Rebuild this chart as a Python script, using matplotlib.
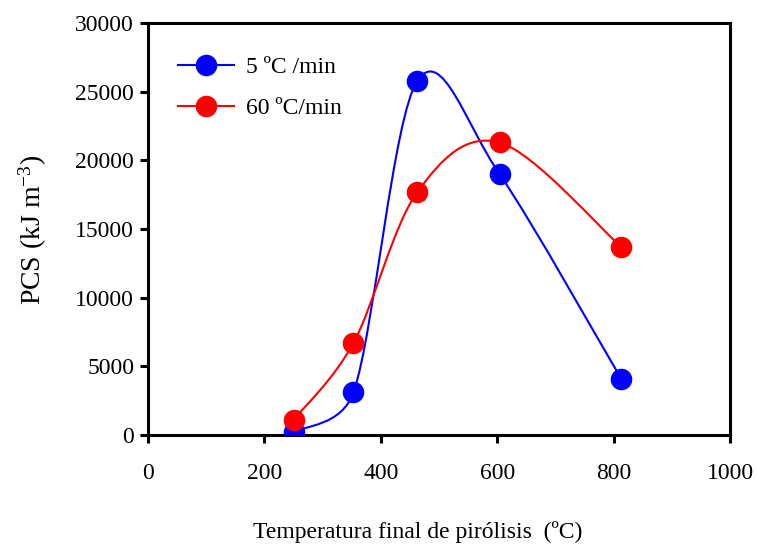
import matplotlib
matplotlib.use('Agg')
import matplotlib.pyplot as plt
from matplotlib.path import Path
from matplotlib.patches import PathPatch
from matplotlib.lines import Line2D
import numpy as np

plt.rcParams.update({
    'font.family': ['Liberation Serif', 'DejaVu Serif'],
    'font.size': 17,
    'mathtext.default': 'regular',
})

# Data
temps_5 = [250, 353, 463, 604, 813]
pcs_5 = [200, 3100, 25800, 19000, 4100]
temps_60 = [250, 353, 463, 604, 813]
pcs_60 = [1100, 6700, 17700, 21300, 13700]

LABELS = ["5 ºC /min", "60 ºC/min"]
COLORS = ["#0000FF", "#FF0000"]


def smooth_path(ax, xs, ys):
    # spreadsheet-style smoothed line, handles worked out in pixel space
    p = ax.transData.transform(np.column_stack([xs, ys]).astype(float))
    ext = np.vstack([p[0], p, p[-1]])
    verts = [p[0]]
    codes = [Path.MOVETO]
    for i in range(len(p) - 1):
        p0, p1, p2, p3 = ext[i], ext[i + 1], ext[i + 2], ext[i + 3]
        half = np.hypot(*(p2 - p1)) / 2.0
        t1 = (p2 - p0) / 6.0
        t2 = (p3 - p1) / 6.0
        n1, n2 = np.hypot(*t1), np.hypot(*t2)
        if n1 > half:
            t1 = t1 * half / n1
        if n2 > half:
            t2 = t2 * half / n2
        verts += [p1 + t1, p2 - t2, p2]
        codes += [Path.CURVE4] * 3
    verts = ax.transData.inverted().transform(np.array(verts))
    return Path(verts, codes)


fig = plt.figure(figsize=(7.57, 5.55), dpi=100)
ax = fig.add_axes([148 / 757, 120 / 555, 582 / 757, 412 / 555])
ax.set_xlim(0, 1000)
ax.set_ylim(0, 30000)

series = [(temps_5, pcs_5), (temps_60, pcs_60)]
handles = []
for (xs, ys), col, lab in zip(series, COLORS, LABELS):
    ax.add_patch(PathPatch(smooth_path(ax, xs, ys), facecolor='none',
                           edgecolor=col, lw=1.5, zorder=2))
    ax.plot(xs, ys, linestyle='none', marker='o', markersize=14.5,
            color=col, zorder=3)
    handles.append(Line2D([], [], color=col, lw=1.5, marker='o',
                          markersize=14.5, label=lab))

ax.set_xticks(range(0, 1001, 200))
ax.set_yticks(range(0, 30001, 5000))

for s in ax.spines.values():
    s.set_linewidth(2.2)
    s.set_color('black')
ax.tick_params(axis='both', direction='out', length=6, width=2.2,
               labelsize=17)
ax.tick_params(axis='x', pad=14)
ax.tick_params(axis='y', pad=4)

fig.text(33 / 757, 1 - 230 / 555, r'PCS (kJ m$^{-3}$)', rotation=90,
         ha='center', va='center', fontsize=20)
fig.text(418 / 757, 12 / 555, 'Temperatura final de pirólisis  (ºC)',
         ha='center', va='bottom', fontsize=17)

ax.legend(handles=handles, loc='upper left', frameon=False, fontsize=17,
          handlelength=2.4, handletextpad=0.5, labelspacing=0.85,
          bbox_to_anchor=(0.035, 0.942), borderaxespad=0)

fig.savefig('out.png', dpi=100)
